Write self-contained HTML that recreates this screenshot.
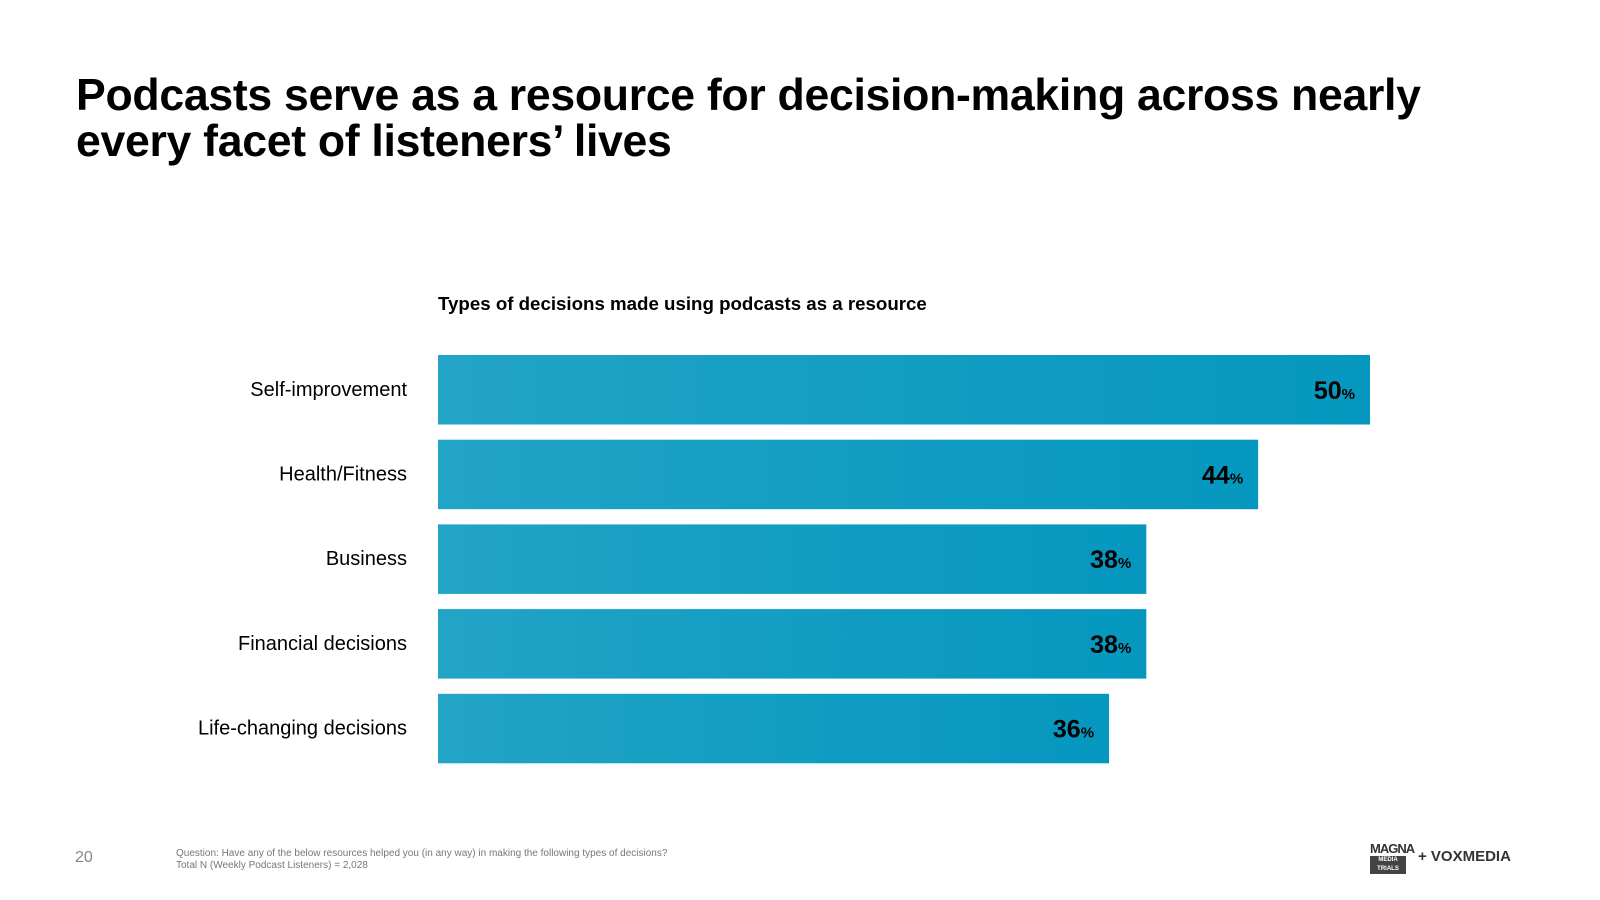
<!DOCTYPE html>
<html><head><meta charset="utf-8">
<style>
body{margin:0;width:1600px;height:900px;background:#fff;font-family:"Liberation Sans",sans-serif;overflow:hidden;position:relative}
h1{position:absolute;left:76px;top:73px;margin:0;font-size:44.6px;line-height:46px;font-weight:bold;color:#000;letter-spacing:-0.3px}
.sub{position:absolute;left:438px;top:293px;font-size:18.7px;font-weight:bold;color:#000}
.foot{position:absolute;left:176px;top:848px;font-size:10px;color:#777;line-height:12px}
.pg{position:absolute;left:75px;top:849px;font-size:16px;color:#888}
</style></head><body>
<h1>Podcasts serve as a resource for decision-making across nearly<br>every facet of listeners’ lives</h1>
<div class="sub">Types of decisions made using podcasts as a resource</div>
<svg id="chart" width="1600" height="900" style="position:absolute;left:0;top:0">
<defs><linearGradient id="g" x1="0" x2="1" y1="0" y2="0"><stop offset="0" stop-color="#22a4c6"/><stop offset="0.3" stop-color="#18a0c4"/><stop offset="1" stop-color="#0597bf"/></linearGradient></defs>
</svg>
<div class="pg">20</div>
<div class="foot">Question: Have any of the below resources helped you (in any way) in making the following types of decisions?<br>Total N (Weekly Podcast Listeners) = 2,028</div>
<div style="position:absolute;left:1370px;top:842px;width:36px;font-size:13px;font-weight:bold;color:#333;line-height:14px;letter-spacing:-1px">MAGNA<div style="background:#444;color:#fff;font-size:6px;line-height:9px;text-align:center;letter-spacing:0">MEDIA TRIALS</div></div>
<div style="position:absolute;left:1418px;top:848px;font-size:15px;font-weight:bold;color:#333">+ VOXMEDIA</div>
<script>
const categories=["Self-improvement","Health/Fitness","Business","Financial decisions","Life-changing decisions"];
const values=[50,44,38,38,36];
const svg=document.getElementById('chart');const NS='http://www.w3.org/2000/svg';
const x0=438,pxPer=932/50,y0=355,step=84.7,bh=69.5;
const xs=v=>x0+v*pxPer;
categories.forEach((c,i)=>{
 const y=y0+i*step;
 const r=document.createElementNS(NS,'rect');
 r.setAttribute('x',x0);r.setAttribute('y',y);r.setAttribute('width',xs(values[i])-x0);r.setAttribute('height',bh);r.setAttribute('fill','url(#g)');
 
 
 svg.appendChild(r);
 const t=document.createElementNS(NS,'text');
 t.setAttribute('x',407);t.setAttribute('y',y+bh/2+6);t.setAttribute('text-anchor','end');t.setAttribute('font-size','20');t.setAttribute('fill','#000');
 t.textContent=c;
 
 
 svg.appendChild(t);
 const v=document.createElementNS(NS,'text');
 v.setAttribute('x',xs(values[i])-15);v.setAttribute('y',y+bh/2+9);v.setAttribute('text-anchor','end');v.setAttribute('font-weight','bold');v.setAttribute('fill','#000');
 v.innerHTML='<tspan font-size="25">'+values[i]+'</tspan><tspan font-size="15">%</tspan>';
 
 
 svg.appendChild(v);
});
</script>
</body></html>
